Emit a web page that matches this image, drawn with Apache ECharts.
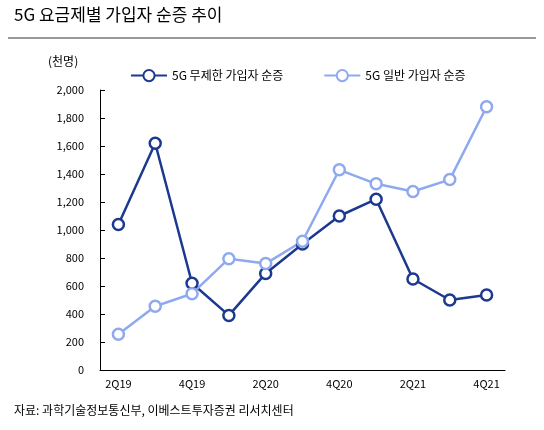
<!DOCTYPE html><html><head><meta charset="utf-8"><script src="https://cdn.jsdelivr.net/npm/echarts@6/dist/echarts.min.js"></script>
<style>body{margin:0}#c{width:544px;height:430px}</style></head><body><div id="c"></div><script>
const categories=['2Q19','3Q19','4Q19','1Q20','2Q20','3Q20','4Q20','1Q21','2Q21','3Q21','4Q21'];
const unlimited=[1040,1620,620,390,690,900,1100,1220,650,500,535];
const general=[255,455,545,795,760,920,1430,1330,1275,1360,1880];
const F='"Noto Sans CJK KR",sans-serif';
const c=echarts.init(document.getElementById('c'));
const mk=(name,data,col)=>({name,type:'line',data,symbol:'circle',symbolSize:11,lineStyle:{color:col,width:2.5},itemStyle:{color:'#fff',borderColor:col,borderWidth:2.5}});
c.setOption({
graphic:[{type:'text',left:14,top:6,style:{text:'5G 요금제별 가입자 순증 추이',font:'17px '+F,fill:'#000'}},
{type:'rect',shape:{x:8,y:37,width:528,height:2},style:{fill:'#999'}},
{type:'text',left:48,top:55,style:{text:'(천명)',font:'12px '+F,fill:'#000'}},
{type:'text',left:14,top:404,style:{text:'자료: 과학기술정보통신부, 이베스트투자증권 리서치센터',font:'12px '+F,fill:'#000'}}],
legend:{top:64,left:125,itemGap:40,itemWidth:36,textStyle:{fontFamily:F,fontSize:12,color:'#000'},data:['5G 무제한 가입자 순증','5G 일반 가입자 순증']},
grid:{left:100,right:39,top:90,bottom:60},
xAxis:{type:'category',data:categories,boundaryGap:true,axisTick:{show:false},axisLine:{lineStyle:{color:'#000'}},axisLabel:{interval:1,color:'#000',fontFamily:F,fontSize:11}},
yAxis:{type:'value',min:0,max:2000,interval:200,splitLine:{show:false},axisLine:{show:true,lineStyle:{color:'#000'}},axisTick:{show:true,inside:true},axisLabel:{margin:16,color:'#000',fontFamily:F,fontSize:11,formatter:v=>v.toLocaleString('en-US')}},
series:[mk('5G 무제한 가입자 순증',unlimited,'#1c3990'),mk('5G 일반 가입자 순증',general,'#8ea9ef')]
});
</script></body></html>
